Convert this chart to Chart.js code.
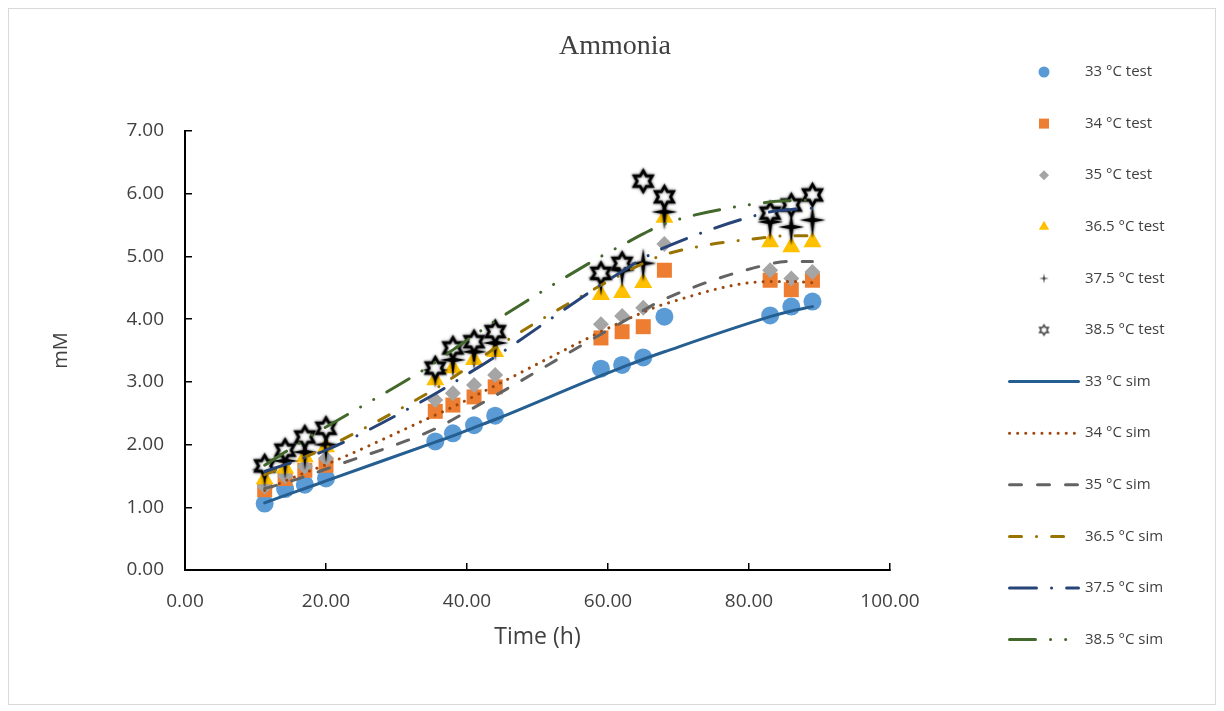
<!DOCTYPE html>
<html>
<head>
<meta charset="utf-8">
<script src="https://cdn.jsdelivr.net/npm/chart.js"></script>
<style>
  html, body { margin: 0; padding: 0; background: #fff; }
  #wrap { width: 1224px; height: 711px; }
</style>
</head>
<body>
<div id="wrap"><canvas id="ammoniaChart"></canvas></div>
<script>
// sampling times (h)
const timeH = [11.3, 14.2, 17, 20, 35.5, 38, 41, 44, 59, 62, 65, 68, 83, 86, 89];

// measured ammonia (mM)
const test33 = [1.06, 1.29, 1.36, 1.46, 2.05, 2.18, 2.31, 2.46, 3.21, 3.27, 3.39, 4.04, 4.06, 4.20, 4.28];
const test34 = [1.28, 1.46, 1.59, 1.67, 2.53, 2.63, 2.76, 2.92, 3.70, 3.80, 3.88, 4.78, 4.62, 4.47, 4.62];
const test35 = [1.33, 1.50, 1.65, 1.78, 2.71, 2.82, 2.95, 3.11, 3.92, 4.05, 4.18, 5.20, 4.78, 4.65, 4.75];
const test365 = [1.45, 1.62, 1.80, 1.96, 3.03, 3.22, 3.35, 3.48, 4.39, 4.42, 4.58, 5.62, 5.23, 5.15, 5.23];
const test375 = [1.60, 1.74, 1.88, 2.00, 3.19, 3.35, 3.48, 3.62, 4.66, 4.78, 4.89, 5.71, 5.55, 5.47, 5.58];
const test385 = [1.66, 1.91, 2.12, 2.26, 3.22, 3.54, 3.64, 3.80, 4.73, 4.89, 6.20, 5.95, 5.69, 5.82, 5.98];

// simulated ammonia (mM)
const sim33 = [1.07, 1.19, 1.30, 1.42, 2.04, 2.14, 2.27, 2.40, 3.10, 3.23, 3.36, 3.48, 4.04, 4.13, 4.20];
const sim34 = [1.27, 1.42, 1.55, 1.68, 2.47, 2.60, 2.77, 2.94, 3.80, 3.96, 4.11, 4.24, 4.60, 4.60, 4.58];
const sim35 = [1.30, 1.39, 1.49, 1.61, 2.25, 2.40, 2.59, 2.78, 3.76, 3.95, 4.14, 4.32, 4.88, 4.92, 4.92];
const sim365 = [1.52, 1.66, 1.80, 1.95, 2.89, 3.07, 3.30, 3.54, 4.54, 4.72, 4.89, 5.03, 5.31, 5.33, 5.33];
const sim375 = [1.57, 1.68, 1.79, 1.91, 2.81, 2.98, 3.19, 3.40, 4.55, 4.76, 4.97, 5.14, 5.71, 5.75, 5.77];
const sim385 = [1.67, 1.88, 2.08, 2.28, 3.31, 3.51, 3.74, 3.97, 5.00, 5.18, 5.36, 5.52, 5.87, 5.89, 5.90];

const xTickValues = [0, 20, 40, 60, 80, 100];
const yTickValues = [0, 1, 2, 3, 4, 5, 6, 7];

const textColor = '#404040';
const pts = (ys) => timeH.map((x, i) => ({ x, y: ys[i] }));

function makeStar(R, lw, color, blur) {
  const size = Math.ceil(R * 2 + lw * 2 + blur * 2 + 4);
  const c = document.createElement('canvas');
  c.width = c.height = size;
  const ctx = c.getContext('2d');
  const cx = size / 2, cy = size / 2;
  ctx.beginPath();
  for (let k = 0; k < 12; k++) {
    const r = k % 2 === 0 ? R : R / Math.sqrt(3);
    const a = -Math.PI / 2 + k * Math.PI / 6;
    ctx.lineTo(cx + r * Math.cos(a), cy + r * Math.sin(a));
  }
  ctx.closePath();
  ctx.fillStyle = '#fff';
  ctx.fill();
  ctx.shadowColor = 'rgba(0,0,0,0.7)';
  ctx.shadowBlur = blur;
  ctx.lineWidth = lw;
  ctx.strokeStyle = color;
  ctx.stroke();
  return c;
}

function makeSparkle(up, down, side, inner, color, blur) {
  const w = Math.ceil(side * 2 + blur * 2 + 4);
  const h = Math.ceil(Math.max(up, down) * 2 + blur * 2 + 4);
  const c = document.createElement('canvas');
  c.width = w; c.height = h;
  const ctx = c.getContext('2d');
  const cx = w / 2, cy = h / 2;
  ctx.beginPath();
  ctx.moveTo(cx, cy - up);
  ctx.lineTo(cx + inner, cy - inner);
  ctx.lineTo(cx + side, cy);
  ctx.lineTo(cx + inner, cy + inner);
  ctx.lineTo(cx, cy + down);
  ctx.lineTo(cx - inner, cy + inner);
  ctx.lineTo(cx - side, cy);
  ctx.lineTo(cx - inner, cy - inner);
  ctx.closePath();
  ctx.shadowColor = 'rgba(0,0,0,0.8)';
  ctx.shadowBlur = blur;
  ctx.fillStyle = color;
  ctx.fill();
  return c;
}

const starMark = makeStar(10.5, 2.8, '#000', 3);
const sparkMark = makeSparkle(15, 18, 13, 2, '#000', 3);
const starSmall = makeStar(5, 1.5, '#404040', 0);
const sparkSmall = makeSparkle(5, 5, 5, 0.8, '#404040', 0);

function testSet(label, ys, style, color, radius, order, legendMarker) {
  return {
    label, data: pts(ys), order,
    pointStyle: style, pointRadius: radius, pointHoverRadius: radius,
    pointBackgroundColor: color, pointBorderColor: color, pointBorderWidth: 0,
    showLine: false, legendMarker
  };
}

function simSet(label, ys, color, dash, order) {
  return {
    label, data: pts(ys), order,
    showLine: true, borderColor: color, borderWidth: 3, borderDash: dash,
    borderCapStyle: 'round', cubicInterpolationMode: 'monotone',
    pointRadius: 0, pointHoverRadius: 0, backgroundColor: color
  };
}

const datasets = [
  testSet('33 °C test', test33, 'circle', '#5B9BD5', 9, 11, { style: 'circle', r: 5.5, color: '#5B9BD5' }),
  testSet('34 °C test', test34, 'rect', '#ED7D31', 10.6, 10, { style: 'rect', r: 5, color: '#ED7D31' }),
  testSet('35 °C test', test35, 'rectRot', '#A5A5A5', 8, 9, { style: 'rectRot', r: 5, color: '#A5A5A5' }),
  testSet('36.5 °C test', test365, 'triangle', '#FFC000', 10.4, 8, { style: 'triangle', r: 6, color: '#FFC000' }),
  testSet('37.5 °C test', test375, sparkMark, '#000', 8, 7, { image: sparkSmall }),
  testSet('38.5 °C test', test385, starMark, '#000', 8, 6, { image: starSmall }),
  simSet('33 °C sim', sim33, '#255E91', [], 5),
  simSet('34 °C sim', sim34, '#9E480E', [0.1, 8], 4),
  simSet('35 °C sim', sim35, '#636363', [12, 16], 3),
  simSet('36.5 °C sim', sim365, '#997300', [12, 15, 0.1, 15], 2),
  simSet('37.5 °C sim', sim375, '#264478', [27, 15, 0.1, 15], 1),
  simSet('38.5 °C sim', sim385, '#43682B', [26, 15, 0.1, 15, 0.1, 15], 0)
];

function drawMarker(ctx, m, x, y) {
  if (m.image) {
    ctx.drawImage(m.image, x - m.image.width / 2, y - m.image.height / 2);
    return;
  }
  ctx.fillStyle = m.color;
  ctx.beginPath();
  if (m.style === 'circle') {
    ctx.arc(x, y, m.r, 0, Math.PI * 2);
  } else if (m.style === 'rect') {
    ctx.rect(x - m.r, y - m.r, m.r * 2, m.r * 2);
  } else if (m.style === 'rectRot') {
    ctx.moveTo(x, y - m.r); ctx.lineTo(x + m.r, y); ctx.lineTo(x, y + m.r); ctx.lineTo(x - m.r, y);
  } else if (m.style === 'triangle') {
    ctx.moveTo(x, y - m.r);
    ctx.lineTo(x + m.r * 0.866, y + m.r * 0.5);
    ctx.lineTo(x - m.r * 0.866, y + m.r * 0.5);
  }
  ctx.closePath();
  ctx.fill();
}

const framePlugin = {
  id: 'frame',
  afterDraw(chart) {
    const ctx = chart.ctx;
    ctx.save();
    ctx.strokeStyle = '#D9D9D9';
    ctx.lineWidth = 1;
    ctx.strokeRect(8.5, 8.5, 1207, 696);

    ctx.fillStyle = textColor;
    ctx.font = '28px "Liberation Serif"';
    ctx.textAlign = 'center';
    ctx.textBaseline = 'middle';
    ctx.fillText('Ammonia', 615, 47);

    ctx.textAlign = 'left';
    ctx.font = '15px "Open Sans"';
    chart.data.datasets.forEach((ds, i) => {
      const y = 72 + i * 51.6;
      ctx.save();
      if (ds.showLine) {
        ctx.strokeStyle = ds.borderColor;
        ctx.lineWidth = ds.borderWidth;
        ctx.lineCap = 'round';
        ctx.setLineDash(ds.borderDash);
        ctx.beginPath();
        ctx.moveTo(1009.5, y);
        ctx.lineTo(1078.5, y);
        ctx.stroke();
      } else {
        drawMarker(ctx, ds.legendMarker, 1044, y);
      }
      ctx.restore();
      ctx.fillStyle = textColor;
      ctx.fillText(ds.label, 1085, y);
    });
    ctx.restore();
  }
};

new Chart(document.getElementById('ammoniaChart'), {
  type: 'scatter',
  data: { datasets },
  plugins: [framePlugin],
  options: {
    responsive: true,
    maintainAspectRatio: false,
    animation: false,
    events: [],
    layout: { padding: { top: 131, left: 0, right: 334, bottom: 0 } },
    plugins: { legend: { display: false }, tooltip: { enabled: false }, title: { display: false } },
    scales: {
      x: {
        type: 'linear', min: 0, max: 100,
        afterBuildTicks: (s) => { s.ticks = xTickValues.map((v) => ({ value: v })); },
        afterFit: (s) => { s.height = 141; },
        border: { color: '#000', width: 2 },
        grid: { display: true, drawOnChartArea: false, drawTicks: true, tickLength: -7, color: '#000', lineWidth: 1.5 },
        ticks: { padding: 27, color: textColor, font: { family: 'Open Sans', size: 19 }, callback: (v) => Number(v).toFixed(2), maxRotation: 0 },
        title: { display: true, text: 'Time (h)', color: textColor, font: { family: 'Open Sans', size: 23 }, padding: { top: 0, bottom: 60 } }
      },
      y: {
        type: 'linear', min: 0, max: 7,
        afterBuildTicks: (s) => { s.ticks = yTickValues.map((v) => ({ value: v })); },
        afterFit: (s) => { s.width = 185; },
        border: { color: '#000', width: 2 },
        grid: { display: true, drawOnChartArea: false, drawTicks: true, tickLength: -7, color: '#000', lineWidth: 1.5 },
        ticks: { padding: 28, color: textColor, font: { family: 'Open Sans', size: 19 }, callback: (v) => Number(v).toFixed(2) },
        title: { display: true, text: 'mM', color: textColor, font: { family: 'Open Sans', size: 20 }, padding: { top: 49, bottom: 0 } }
      }
    }
  }
});
</script>
</body>
</html>
